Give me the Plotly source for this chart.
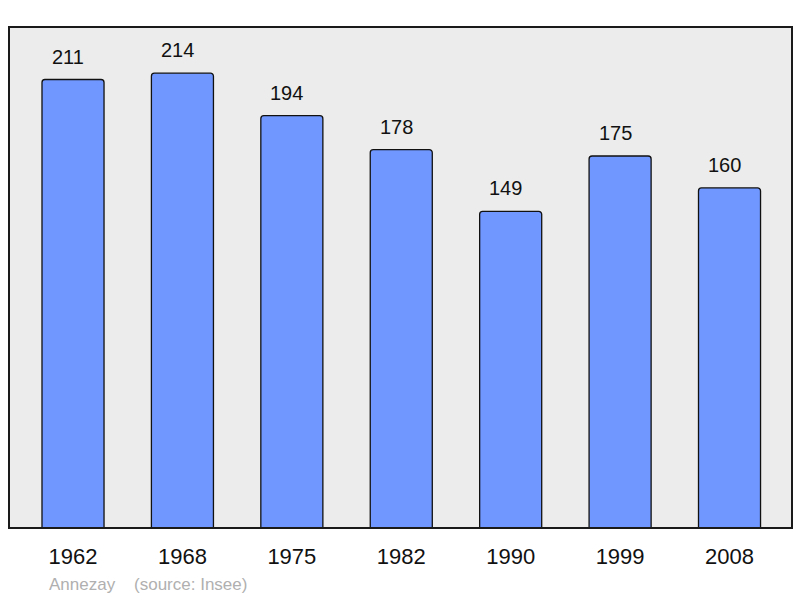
import plotly.graph_objects as go

years = ["1962", "1968", "1975", "1982", "1990", "1999", "2008"]
population = [211, 214, 194, 178, 149, 175, 160]
commune = "Annezay"
source = "(source: Insee)"

W, H = 800, 598
L, R, T, B = 9, 8, 27, 70
FONT = "Liberation Sans, Arial, sans-serif"

fig = go.Figure()
fig.add_trace(go.Bar(
    x=list(range(len(years))), y=population,
    marker=dict(color="#7097ff", line=dict(color="#111111", width=1.3), cornerradius=3),
    hoverinfo="y",
))

for i, v in enumerate(population):
    fig.add_annotation(x=i, y=v, xref="x", yref="y", text=str(v), showarrow=False,
                       yanchor="bottom", yshift=10, xshift=-5,
                       font=dict(family=FONT, size=20, color="#111111"))

fig.add_annotation(xref="paper", yref="paper", x=(47 - L) / (W - L - R), y=(528 - 584) / (H - T - B),
                   xanchor="left", yanchor="middle", showarrow=False,
                   text=commune + "    " + source,
                   font=dict(family=FONT, size=17, color="#b0b0b0"))

fig.add_shape(type="rect", xref="paper", yref="paper", x0=0, y0=0, x1=1, y1=1,
              line=dict(color="#1a1a1a", width=2), layer="above")

fig.update_layout(
    width=W, height=H,
    margin=dict(l=L, r=R, t=T, b=B, pad=0),
    paper_bgcolor="white", plot_bgcolor="#ececec",
    bargap=0.433, showlegend=False,
    font=dict(family=FONT, color="#111111"),
)
fig.update_xaxes(type="linear", range=[-0.585, 6.571], showgrid=False, zeroline=False, showline=False,
                 tickmode="array", tickvals=list(range(len(years))), ticktext=years,
                 tickfont=dict(size=22, color="#111111"), ticks="", ticklabelstandoff=13,
                 fixedrange=True)
fig.update_yaxes(range=[0, 235.7], showgrid=False, zeroline=False, showline=False,
                 showticklabels=False, ticks="", fixedrange=True)

fig.write_html("out.html", config={"displayModeBar": False},
               post_script="document.body.style.margin='0';document.body.style.overflow='hidden';")
